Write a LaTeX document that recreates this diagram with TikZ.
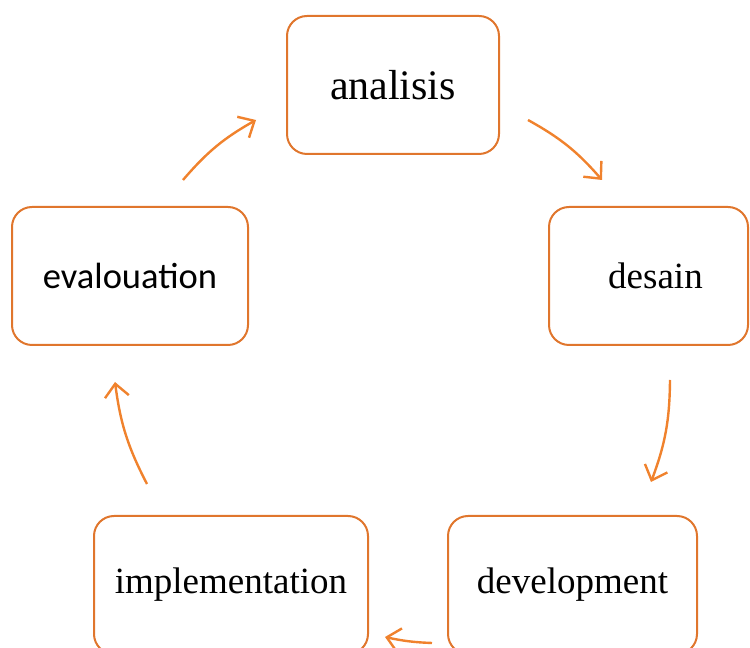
\documentclass[tikz,border=0pt]{standalone}
\usepackage{fontspec}
\setmainfont{Liberation Serif}
\newfontfamily\calibrifont{Carlito}
\usetikzlibrary{arrows.meta}
\definecolor{boxorange}{RGB}{224,118,45}
\definecolor{arroworange}{RGB}{240,130,45}

\begin{document}
\begin{tikzpicture}[x=1pt,y=1pt,
    stage/.style={draw=boxorange, line width=2pt, rounded corners=20pt,
      minimum height=138pt, inner sep=0pt, font=\fontsize{37}{44}\selectfont},
    flow/.style={draw=arroworange, line width=2.4pt,
      -{Straight Barb[length=13pt,width=24pt,line width=2.4pt]}}]
    \useasboundingbox (0,0) rectangle (750,648);
    \clip (0,0) rectangle (750,648);

    %Stages
    \node[stage, minimum width=212pt, font=\fontsize{42}{50}\selectfont] (analisis) at (393,563) {analisis};
    \node[stage, minimum width=199pt] (desain) at (648.5,372) {\hspace*{14pt}desain};
    \node[stage, minimum width=249pt] (development) at (572.5,63) {development};
    \node[stage, minimum width=274pt] (implementation) at (231,63) {implementation};
    \node[stage, minimum width=236pt, font=\calibrifont\fontsize{36.5}{44}\selectfont] (evalouation) at (130,372) {evalouation};

    %Arrow ends
    \coordinate (analisis-out) at (528,528);
    \coordinate (desain-in) at (602,468);
    \coordinate (desain-out) at (670,268);
    \coordinate (development-in) at (651,166);
    \coordinate (development-out) at (432,5);
    \coordinate (implementation-in) at (385,11);
    \coordinate (implementation-out) at (147,164);
    \coordinate (evalouation-in) at (115,266);
    \coordinate (evalouation-out) at (183,468);
    \coordinate (analisis-in) at (256,528);

    %Arrows
    \draw[flow] (analisis-out) to[bend left=10] (desain-in);
    \draw[flow] (desain-out) to[bend left=10] (development-in);
    \draw[flow] (development-out) to[bend left=5] (implementation-in);
    \draw[flow] (implementation-out) to[bend left=10] (evalouation-in);
    \draw[flow] (evalouation-out) to[bend left=10] (analisis-in);
  \end{tikzpicture}
\end{document}
